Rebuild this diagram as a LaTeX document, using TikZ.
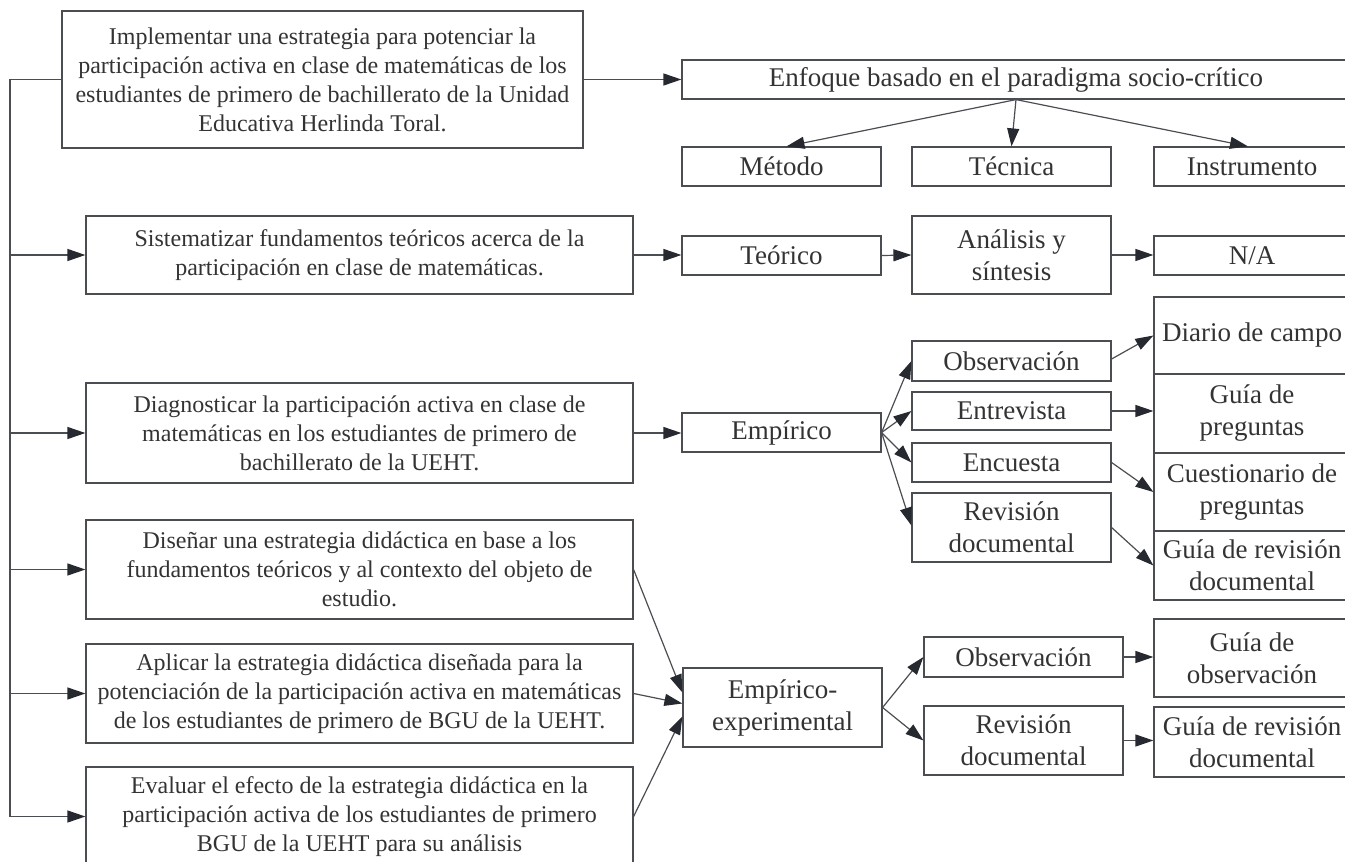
\documentclass[tikz,border=0pt]{standalone}
\usepackage{fontspec}
\setmainfont{Liberation Serif}
\usetikzlibrary{arrows.meta,calc}
\definecolor{ln}{HTML}{4A4D52}
\definecolor{ah}{HTML}{262A30}
\definecolor{tx}{HTML}{333333}
\begin{document}
\begin{tikzpicture}[x=1pt,y=-1pt,
  lbox/.style={draw=ln, line width=1.2pt, text=tx, align=center, inner sep=0pt, font=\fontsize{24}{29}\selectfont},
  rbox/.style={draw=ln, line width=1.2pt, text=tx, align=center, inner sep=0pt, font=\fontsize{27}{32}\selectfont},
  arr/.style={draw=ln, line width=1.2pt, -{Triangle[length=18pt,width=12pt,color=ah]}},
  plain/.style={draw=ln, line width=1.2pt}]
\useasboundingbox (0,0) rectangle (1345,862);

% left objective boxes
\node[lbox, minimum width=521pt, minimum height=137pt] (o1) at (322.5,79.5)
  {Implementar una estrategia para potenciar la\\participación activa en clase de matemáticas de los\\estudiantes de primero de bachillerato de la Unidad\\Educativa Herlinda Toral.};
\node[lbox, minimum width=547pt, minimum height=78pt] (o2) at (359.5,255)
  {Sistematizar fundamentos teóricos acerca de la\\participación en clase de matemáticas.};
\node[lbox, minimum width=547pt, minimum height=100pt] (o3) at (359.5,433)
  {Diagnosticar la participación activa en clase de\\matemáticas en los estudiantes de primero de\\bachillerato de la UEHT.};
\node[lbox, minimum width=547pt, minimum height=99pt] (o4) at (359.5,569.5)
  {Diseñar una estrategia didáctica en base a los\\fundamentos teóricos y al contexto del objeto de\\estudio.};
\node[lbox, minimum width=547pt, minimum height=99pt] (o5) at (359.5,693.5)
  {Aplicar la estrategia didáctica diseñada para la\\potenciación de la participación activa en matemáticas\\de los estudiantes de primero de BGU de la UEHT.};
\node[lbox, minimum width=547pt, minimum height=99pt] (o6) at (359.5,816.5)
  {Evaluar el efecto de la estrategia didáctica en la\\participación activa de los estudiantes de primero\\BGU de la UEHT para su análisis};

% top row
\node[rbox, minimum width=668pt, minimum height=39pt] (enf) at (1016,79.5) {Enfoque basado en el paradigma socio-crítico};
\node[rbox, minimum width=199pt, minimum height=39pt] (met) at (781.5,166.5) {Método};
\node[rbox, minimum width=199pt, minimum height=39pt] (tec) at (1011.5,166.5) {Técnica};
\node[rbox, minimum width=196pt, minimum height=39pt] (ins) at (1252,166.5) {Instrumento};

% theoretical row
\node[rbox, minimum width=199pt, minimum height=39pt] (teo) at (781.5,255.5) {Teórico};
\node[rbox, minimum width=199pt, minimum height=78pt] (ana) at (1011.5,255) {Análisis y\\síntesis};
\node[rbox, minimum width=196pt, minimum height=39pt] (na) at (1252,255.5) {N/A};

% empirical group
\node[rbox, minimum width=199pt, minimum height=39pt] (emp) at (781.5,432.5) {Empírico};
\node[rbox, minimum width=199pt, minimum height=40pt] (obs) at (1011.5,361) {Observación};
\node[rbox, minimum width=199pt, minimum height=38pt] (ent) at (1011.5,411) {Entrevista};
\node[rbox, minimum width=199pt, minimum height=39pt] (enc) at (1011.5,462.5) {Encuesta};
\node[rbox, minimum width=199pt, minimum height=69pt] (rev) at (1011.5,527.5) {Revisión\\documental};
\node[rbox, minimum width=196pt, minimum height=77pt] (dia) at (1252,335.5) {Diario de campo};
\node[rbox, minimum width=196pt, minimum height=79pt] (gpr) at (1252,413.5) {Guía de\\preguntas};
\node[rbox, minimum width=196pt, minimum height=78pt] (cue) at (1252,492) {Cuestionario de\\preguntas};
\node[rbox, minimum width=196pt, minimum height=69pt] (grv) at (1252,565.5) {Guía de revisión\\documental};

% empirical-experimental group
\node[rbox, minimum width=199pt, minimum height=79pt] (eex) at (782.5,707.5) {Empírico-\\experimental};
\node[rbox, minimum width=199pt, minimum height=40pt] (obs2) at (1023.5,657) {Observación};
\node[rbox, minimum width=199pt, minimum height=69pt] (rev2) at (1023.5,740.5) {Revisión\\documental};
\node[rbox, minimum width=196pt, minimum height=78pt] (gob) at (1252,658) {Guía de\\observación};
\node[rbox, minimum width=196pt, minimum height=70pt] (grv2) at (1252,742) {Guía de revisión\\documental};

% left spine
\coordinate (spTop) at (10,79.5);
\coordinate (spBot) at (10,816.5);
\draw[plain] (o1.west) -- (spTop) -- (spBot);
\draw[arr] (o2.west -| spTop) -- (o2.west);
\draw[arr] (o3.west -| spTop) -- (o3.west);
\draw[arr] (o4.west -| spTop) -- (o4.west);
\draw[arr] (o5.west -| spTop) -- (o5.west);
\draw[arr] (spBot) -- (o6.west);

% connectors
\draw[arr] (o1.east) -- (o1.east -| enf.west);
\draw[arr] (enf.south) -- ($(met.north)+(5,0)$);
\draw[arr] (enf.south) -- (tec.north);
\draw[arr] (enf.south) -- ($(ins.north)+(-4,0)$);

\draw[arr] (o2.east) -- (o2.east -| teo.west);
\draw[arr] (teo.east) -- (ana.west);
\draw[arr] (ana.east) -- (ana.east -| na.west);

\draw[arr] (o3.east) -- (o3.east -| emp.west);
\draw[arr] (emp.east) -- (obs.west);
\draw[arr] (emp.east) -- (ent.west);
\draw[arr] (emp.east) -- (enc.west);
\draw[arr] (emp.east) -- ($(rev.west)+(0,-2)$);
\draw[arr] ($(obs.east)+(0,-2)$) -- (dia.west);
\draw[arr] (ent.east) -- (ent.east -| gpr.west);
\draw[arr] (enc.east) -- (cue.west);
\draw[arr] (rev.east) -- (grv.west);

\draw[arr] (o4.east) -- ($(eex.west)+(0,-15)$);
\draw[arr] (o5.east) -- ($(eex.west)+(0,-4)$);
\draw[arr] (o6.east) -- ($(eex.west)+(0,9)$);
\draw[arr] (eex.east) -- (obs2.west);
\draw[arr] (eex.east) -- (rev2.west);
\draw[arr] (obs2.east) -- (obs2.east -| gob.west);
\draw[arr] (rev2.east) -- (rev2.east -| grv2.west);
\end{tikzpicture}
\end{document}
